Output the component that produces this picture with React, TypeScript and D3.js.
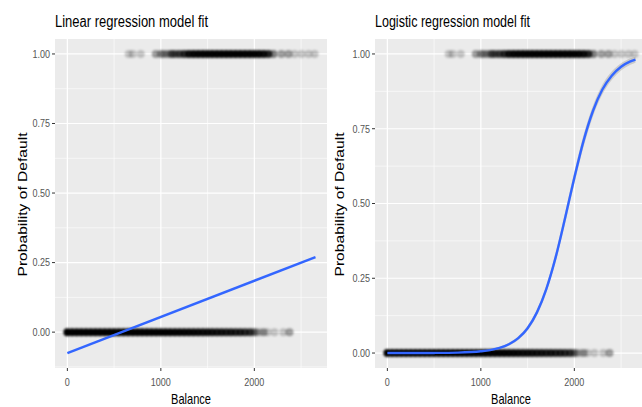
import React, { useEffect, useRef } from 'react';
import * as d3 from 'd3';

// customers who did not default (y = 0): balance and how many points pile up there
const noDefaultBalance = [
    0, 50, 100, 150, 200, 250, 300, 350, 400, 450, 500, 550, 600, 650, 700, 750, 800, 850, 900, 950,
    1000, 1050, 1100, 1150, 1200, 1250, 1300, 1350, 1400, 1450, 1500, 1550, 1600, 1650, 1700, 1750,
    1800, 1850, 1900, 1950, 1990, 2020, 2060, 2100, 2140, 2215, 2310, 2376
];
const noDefaultCount = [
    40, 25, 25, 30, 30, 35, 35, 40, 40, 40, 40, 40, 40, 38, 36, 34, 32, 30, 28, 26,
    24, 22, 20, 18, 17, 16, 15, 14, 13, 12, 12, 11, 10, 10, 9, 9,
    8, 8, 7, 6, 3, 2, 1, 2, 1, 1, 1, 2
];

// customers who defaulted (y = 1)
const defaultBalance = [
    656, 699, 785, 946, 1000, 1032, 1070, 1108, 1129, 1160,
    1200, 1250, 1300, 1350, 1400, 1450, 1500, 1550, 1600, 1650, 1700, 1750, 1800, 1850, 1900, 1950,
    2000, 2050, 2100, 2150, 2204, 2290, 2365, 2430, 2505, 2580, 2645
];
const defaultCount = [
    1, 1, 1, 2, 2, 2, 2, 3, 3, 3,
    5, 7, 12, 15, 18, 20, 22, 24, 25, 26, 26, 26, 25, 24, 22, 20,
    18, 15, 12, 8, 3, 2, 2, 1, 1, 1, 1
];

// lm fit endpoints
const linearFitBalance = [0, 2654];
const linearFitProb = [-0.0752, 0.2696];

// glm fit, with half-width of its grey band
const logitBalance = [0, 250, 500, 750, 1000, 1100, 1200, 1300, 1400, 1500, 1600, 1700, 1800, 1900, 2000, 2100, 2200, 2300, 2400, 2500, 2600, 2654];
const logitProb = [0.00002, 0.0001, 0.0004, 0.0015, 0.0058, 0.0099, 0.0171, 0.0293, 0.0497, 0.083, 0.136, 0.214, 0.32, 0.45, 0.586, 0.711, 0.81, 0.881, 0.927, 0.957, 0.975, 0.981];
const logitSe = [0, 0, 0, 0.001, 0.002, 0.003, 0.004, 0.005, 0.006, 0.008, 0.01, 0.012, 0.015, 0.018, 0.02, 0.02, 0.018, 0.016, 0.014, 0.012, 0.011, 0.01];

const xMajor = [0, 1000, 2000];
const xMinor = [500, 1500, 2500];
const yMajor = [0, 0.25, 0.5, 0.75, 1];
const yMinor = [-0.125, 0.125, 0.375, 0.625, 0.875];

const FONT = '"Liberation Sans", Arial, sans-serif';
const SQUEEZE = 0.82;

type Pt = { b: number; n: number };

const App: React.FC = () => {
    const svgRef = useRef<SVGSVGElement>(null);

    useEffect(() => {
        if (!svgRef.current) return;
        const svg = d3.select(svgRef.current);
        svg.selectAll('*').remove();

        // the source picture is soft; blur the dense point bands a touch
        svg.append('defs')
            .append('filter')
            .attr('id', 'soft')
            .attr('x', '-5%').attr('y', '-50%')
            .attr('width', '110%').attr('height', '200%')
            .append('feGaussianBlur')
            .attr('stdDeviation', 1.1);

        const noPts: Pt[] = noDefaultBalance.map((b, i) => ({ b, n: noDefaultCount[i] }));
        const yesPts: Pt[] = defaultBalance.map((b, i) => ({ b, n: defaultCount[i] }));
        const allBal = [...noDefaultBalance, ...defaultBalance];

        const hText = (g: any, x: number, y: number, s: string, size: number, fill: string, anchor: string) =>
            g.append('text')
                .attr('transform', `translate(${x},${y}) scale(${SQUEEZE},1)`)
                .attr('text-anchor', anchor)
                .attr('font-family', FONT)
                .attr('font-size', size)
                .attr('fill', fill)
                .text(s);

        const drawPanel = (left: number, title: string, yVals: number[], fit: 'lin' | 'logit', yTitleX: number) => {
            const top = 39, bottom = 368, w = 272;
            const g = svg.append('g');

            const [bMin, bMax] = d3.extent(allBal) as [number, number];
            const bPad = (bMax - bMin) * 0.05;
            const x = d3.scaleLinear().domain([bMin - bPad, bMax + bPad]).range([left, left + w]);

            const [pMin, pMax] = d3.extent(yVals) as [number, number];
            const pPad = (pMax - pMin) * 0.05;
            const y = d3.scaleLinear().domain([pMin - pPad, pMax + pPad]).range([bottom, top]);

            g.append('rect')
                .attr('x', left).attr('y', top)
                .attr('width', w).attr('height', bottom - top)
                .attr('fill', '#EBEBEB');

            const inY = (v: number) => v >= y.domain()[0] && v <= y.domain()[1];
            const inX = (v: number) => v >= x.domain()[0] && v <= x.domain()[1];

            // minor grid
            g.selectAll('.ymin').data(yMinor.filter(inY)).enter().append('line')
                .attr('x1', left).attr('x2', left + w)
                .attr('y1', d => y(d)).attr('y2', d => y(d))
                .attr('stroke', '#fff').attr('stroke-width', 0.6);
            g.selectAll('.xmin').data(xMinor.filter(inX)).enter().append('line')
                .attr('y1', top).attr('y2', bottom)
                .attr('x1', d => x(d)).attr('x2', d => x(d))
                .attr('stroke', '#fff').attr('stroke-width', 0.6);
            // major grid
            g.selectAll('.ymaj').data(yMajor).enter().append('line')
                .attr('x1', left).attr('x2', left + w)
                .attr('y1', d => y(d)).attr('y2', d => y(d))
                .attr('stroke', '#fff').attr('stroke-width', 1.2);
            g.selectAll('.xmaj').data(xMajor).enter().append('line')
                .attr('y1', top).attr('y2', bottom)
                .attr('x1', d => x(d)).attr('x2', d => x(d))
                .attr('stroke', '#fff').attr('stroke-width', 1.2);

            // points
            const drawDots = (pts: Pt[], yv: number) =>
                g.append('g').attr('filter', 'url(#soft)')
                    .selectAll(null).data(pts).enter().append('circle')
                    .attr('cx', d => x(d.b))
                    .attr('cy', y(yv))
                    .attr('r', 4)
                    .attr('fill', '#000')
                    .attr('fill-opacity', d => 1 - Math.pow(0.8, d.n));
            drawDots(noPts, 0);
            drawDots(yesPts, 1);

            // fit
            if (fit === 'lin') {
                const pts = linearFitBalance.map((b, i) => [b, linearFitProb[i]] as [number, number]);
                g.append('path')
                    .datum(pts)
                    .attr('fill', 'none')
                    .attr('stroke', '#3366FF')
                    .attr('stroke-width', 2.4)
                    .attr('d', d3.line<[number, number]>().x(d => x(d[0])).y(d => y(d[1])));
            } else {
                const pts = logitBalance.map((b, i) => ({ b, p: logitProb[i], se: logitSe[i] }));
                const area = d3.area<typeof pts[0]>()
                    .x(d => x(d.b))
                    .y0(d => y(Math.max(0, d.p - d.se)))
                    .y1(d => y(Math.min(1, d.p + d.se)))
                    .curve(d3.curveMonotoneX);
                g.append('path').datum(pts)
                    .attr('fill', '#999999').attr('fill-opacity', 0.4)
                    .attr('d', area);
                g.append('path').datum(pts)
                    .attr('fill', 'none')
                    .attr('stroke', '#3366FF')
                    .attr('stroke-width', 2.4)
                    .attr('d', d3.line<typeof pts[0]>().x(d => x(d.b)).y(d => y(d.p)).curve(d3.curveMonotoneX));
            }

            // axes
            yMajor.forEach(v => {
                g.append('line')
                    .attr('x1', left - 3).attr('x2', left)
                    .attr('y1', y(v)).attr('y2', y(v))
                    .attr('stroke', '#333').attr('stroke-width', 1);
                hText(g, left - 5, y(v) + 3.8, d3.format('.2f')(v), 11, '#555', 'end');
            });
            xMajor.forEach(v => {
                g.append('line')
                    .attr('x1', x(v)).attr('x2', x(v))
                    .attr('y1', bottom).attr('y2', bottom + 3)
                    .attr('stroke', '#333').attr('stroke-width', 1);
                hText(g, x(v), bottom + 18, String(v), 11, '#555', 'middle');
            });

            // titles
            g.append('text')
                .attr('x', left).attr('y', 27)
                .attr('font-family', FONT).attr('font-size', 16)
                .attr('textLength', title.startsWith('Linear') ? 153 : 155)
                .attr('lengthAdjust', 'spacingAndGlyphs')
                .text(title);
            g.append('text')
                .attr('x', left + w / 2).attr('y', 404)
                .attr('text-anchor', 'middle')
                .attr('font-family', FONT).attr('font-size', 15)
                .attr('textLength', 40)
                .attr('lengthAdjust', 'spacingAndGlyphs')
                .text('Balance');
            g.append('text')
                .attr('transform', `translate(${yTitleX},${(top + bottom) / 2 + 1}) rotate(-90)`)
                .attr('text-anchor', 'middle')
                .attr('font-family', FONT).attr('font-size', 12.5)
                .attr('textLength', 144)
                .attr('lengthAdjust', 'spacingAndGlyphs')
                .text('Probability of Default');
        };

        drawPanel(55, 'Linear regression model fit', [...linearFitProb, 0, 1], 'lin', 26.5);
        drawPanel(375, 'Logistic regression model fit', [0, 1], 'logit', 344);
    }, []);

    return (
        <svg ref={svgRef} width={642} height={407}
            style={{ position: 'absolute', left: 0, top: 0, background: '#fff' }} />
    );
};

export default App;
